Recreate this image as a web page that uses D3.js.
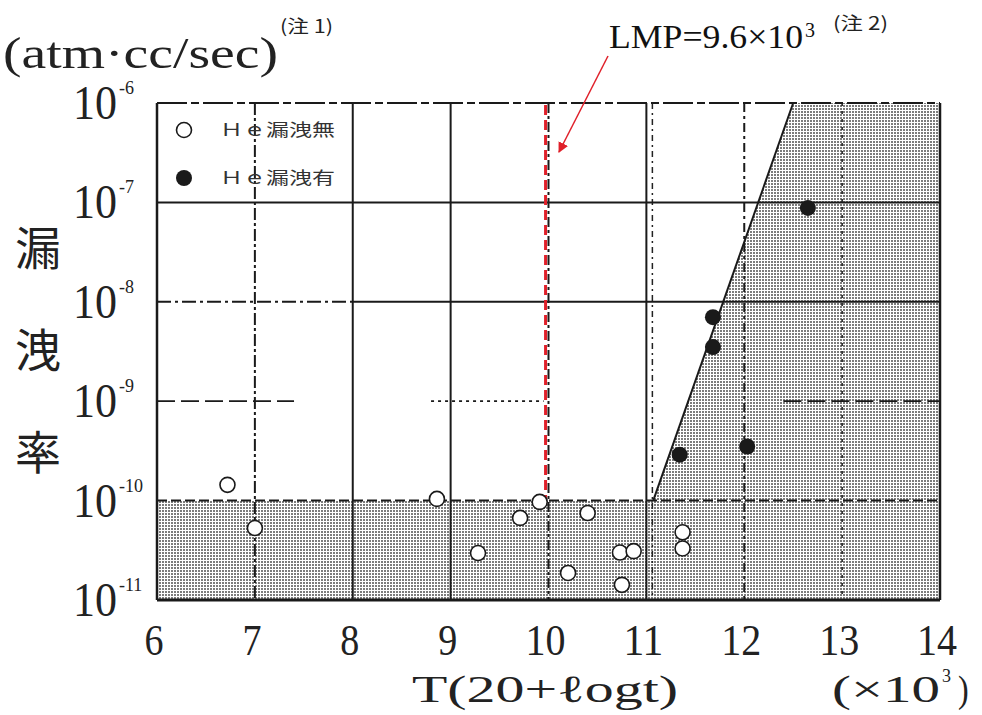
<!DOCTYPE html>
<html>
<head>
<meta charset="utf-8">
<script src="https://cdn.jsdelivr.net/npm/d3@7"></script>
<style>
  html, body { margin: 0; padding: 0; background: #fff; }
  svg { display: block; }
</style>
</head>
<body>
<svg id="chart" width="982" height="715"></svg>
<script>
// ---------------- data ----------------
const xTickValues = [6, 7, 8, 9, 10, 11, 12, 13, 14];
const yTickExponents = [-6, -7, -8, -9, -10, -11];
// He leak: none (open circles)
const noLeakT = [6.72, 7.0, 8.86, 9.28, 9.71, 9.91, 10.40, 10.73, 10.87, 10.20, 10.75, 11.37, 11.37];
const noLeakRate = [1.44e-10, 5.3e-11, 1.04e-10, 2.97e-11, 6.7e-11, 9.7e-11, 7.5e-11, 3.0e-11, 3.1e-11, 1.87e-11, 1.42e-11, 4.8e-11, 3.3e-11];
// He leak: present (filled circles)
const leakT = [12.65, 11.68, 11.68, 11.34, 12.03];
const leakRate = [8.8e-8, 7.0e-9, 3.5e-9, 2.9e-10, 3.5e-10];
// boundary line of the leak region
const boundaryT = [11.07, 12.5];
const boundaryRate = [1e-10, 1e-6];
// lower detection band
const bandRate = [1e-11, 1e-10];
const lmpLineT = 9.97;
const legendLabels = ["Ｈｅ漏洩無", "Ｈｅ漏洩有"];

// ---------------- setup ----------------
const svg = d3.select("#chart");
const x = d3.scaleLinear().domain([6, 14]).range([157, 940]);
const y = d3.scaleLog().domain([1e-11, 1e-6]).range([600, 103]);
const serif = "'Liberation Serif', 'DejaVu Serif', serif";
const cjk = "'Noto Sans CJK JP', sans-serif";
const ink = "#1a1a1a";

// stipple pattern
const defs = svg.append("defs");
const pat = defs.append("pattern").attr("id", "stip").attr("patternUnits", "userSpaceOnUse")
  .attr("width", 3).attr("height", 3);
pat.append("rect").attr("width", 3).attr("height", 3).attr("fill", "#fff");
pat.append("rect").attr("width", 2).attr("height", 2).attr("fill", "#7c7c7c");

defs.append("marker").attr("id", "arrow").attr("viewBox", "0 0 10 10")
  .attr("refX", 9).attr("refY", 5).attr("markerWidth", 7).attr("markerHeight", 7)
  .attr("orient", "auto-start-reverse")
  .append("path").attr("d", "M0,0 L10,5 L0,10 z").attr("fill", "#e0202a");

// shaded band (bottom)
svg.append("rect")
  .attr("x", x(6)).attr("y", y(bandRate[1]))
  .attr("width", x(14) - x(6)).attr("height", y(bandRate[0]) - y(bandRate[1]))
  .attr("fill", "url(#stip)");

// shaded leak region
const regionPts = [
  [x(boundaryT[0]), y(boundaryRate[0])],
  [x(boundaryT[1]), y(boundaryRate[1])],
  [x(14), y(boundaryRate[1])],
  [x(14), y(boundaryRate[0])]
];
svg.append("polygon").attr("points", regionPts.map(p => p.join(",")).join(" "))
  .attr("fill", "url(#stip)");

// vertical grid lines
const vStyles = {7: "12,3,3,3", 8: null, 9: null, 10: "10,3,3,3", 11: null, 12: "9,4,3,4", 13: "3,5"};
[7, 8, 9, 10, 11, 12, 13].forEach(v => {
  svg.append("line").attr("x1", x(v)).attr("x2", x(v))
    .attr("y1", y(1e-6)).attr("y2", y(1e-11))
    .attr("stroke", ink).attr("stroke-width", v === 13 ? 1.5 : 2)
    .attr("stroke-dasharray", vStyles[v]);
});
svg.append("line").attr("x1", x(11) + 6).attr("x2", x(11) + 6)
  .attr("y1", y(1e-6)).attr("y2", y(1e-11))
  .attr("stroke", "#222").attr("stroke-width", 1.5).attr("stroke-dasharray", "6,4,2,4");

// horizontal grid lines
svg.append("line").attr("x1", x(6)).attr("x2", x(14))
  .attr("y1", y(1e-7)).attr("y2", y(1e-7)).attr("stroke", ink).attr("stroke-width", 2);
svg.append("line").attr("x1", x(6)).attr("x2", x(8))
  .attr("y1", y(1e-8)).attr("y2", y(1e-8)).attr("stroke", ink).attr("stroke-width", 2)
  .attr("stroke-dasharray", "14,4,3,4");
svg.append("line").attr("x1", x(8)).attr("x2", x(14))
  .attr("y1", y(1e-8)).attr("y2", y(1e-8)).attr("stroke", ink).attr("stroke-width", 2);
[[6, 7.4, "18,6"], [8.8, 9.95, "3,4"], [12.4, 14, "18,6"]].forEach(s => {
  svg.append("line").attr("x1", x(s[0])).attr("x2", x(s[1]))
    .attr("y1", y(1e-9)).attr("y2", y(1e-9)).attr("stroke", ink).attr("stroke-width", 1.8)
    .attr("stroke-dasharray", s[2]);
});
svg.append("line").attr("x1", x(6)).attr("x2", x(14))
  .attr("y1", y(1e-10)).attr("y2", y(1e-10)).attr("stroke", ink).attr("stroke-width", 2)
  .attr("stroke-dasharray", "10,4");

// boundary line
svg.append("line")
  .attr("x1", x(boundaryT[0])).attr("y1", y(boundaryRate[0]))
  .attr("x2", x(boundaryT[1])).attr("y2", y(boundaryRate[1]))
  .attr("stroke", ink).attr("stroke-width", 2);

// frame
svg.append("line").attr("x1", x(6)).attr("x2", x(14)).attr("y1", y(1e-6)).attr("y2", y(1e-6))
  .attr("stroke", ink).attr("stroke-width", 2).attr("stroke-dasharray", "30,4,8,4");
svg.append("line").attr("x1", x(6)).attr("x2", x(14)).attr("y1", y(1e-11)).attr("y2", y(1e-11))
  .attr("stroke", ink).attr("stroke-width", 3);
svg.append("line").attr("x1", x(6)).attr("x2", x(6)).attr("y1", y(1e-6)).attr("y2", y(1e-11))
  .attr("stroke", ink).attr("stroke-width", 2.5);
svg.append("line").attr("x1", x(14)).attr("x2", x(14)).attr("y1", y(1e-6)).attr("y2", y(1e-11))
  .attr("stroke", ink).attr("stroke-width", 2.5);

// red LMP line
svg.append("line").attr("x1", x(lmpLineT)).attr("x2", x(lmpLineT))
  .attr("y1", y(1e-6) + 2).attr("y2", y(1e-10) + 8)
  .attr("stroke", "#e0202a").attr("stroke-width", 3).attr("stroke-dasharray", "10,5");

// points
svg.append("g").selectAll("circle").data(noLeakT.map((t, i) => [t, noLeakRate[i]]))
  .join("circle").attr("cx", d => x(d[0])).attr("cy", d => y(d[1])).attr("r", 7.5)
  .attr("fill", "#fff").attr("stroke", ink).attr("stroke-width", 1.6);
svg.append("g").selectAll("circle").data(leakT.map((t, i) => [t, leakRate[i]]))
  .join("circle").attr("cx", d => x(d[0])).attr("cy", d => y(d[1])).attr("r", 8)
  .attr("fill", ink);

// legend
svg.append("circle").attr("cx", 184).attr("cy", 130).attr("r", 7.5)
  .attr("fill", "#fff").attr("stroke", ink).attr("stroke-width", 1.6);
svg.append("circle").attr("cx", 184).attr("cy", 178).attr("r", 8).attr("fill", ink);
legendLabels.forEach((lab, i) => {
  svg.append("text").attr("x", 220).attr("y", 136 + i * 48)
    .attr("font-family", cjk).attr("font-size", 17).attr("fill", "#333")
    .attr("textLength", 115).attr("lengthAdjust", "spacingAndGlyphs")
    .text(lab);
});

// y tick labels
yTickExponents.forEach(e => {
  const yy = y(Math.pow(10, e));
  svg.append("text").attr("transform", `translate(117,${yy + 16}) scale(1,1.3)`)
    .attr("text-anchor", "end").attr("font-family", serif).attr("font-size", 38)
    .attr("fill", "#222").attr("textLength", 44).attr("lengthAdjust", "spacingAndGlyphs")
    .text("10");
  svg.append("text").attr("x", 119).attr("y", yy - 9)
    .attr("font-family", serif).attr("font-size", 18).attr("fill", "#222")
    .text("-" + (-e));
});

// x tick labels
xTickValues.forEach(v => {
  const s = String(v);
  svg.append("text").attr("transform", `translate(${x(v) - 3},${655}) scale(1,1.3)`)
    .attr("text-anchor", "middle").attr("font-family", serif).attr("font-size", 34)
    .attr("fill", "#222").attr("textLength", s.length === 1 ? 19 : 40)
    .attr("lengthAdjust", "spacingAndGlyphs").text(s);
});

// axis titles
svg.append("text").attr("transform", "translate(412,702) scale(1,1.2)")
  .attr("font-family", serif).attr("font-size", 32).attr("fill", "#222")
  .attr("textLength", 266).attr("lengthAdjust", "spacingAndGlyphs")
  .text("T(20+ℓogt)");
const unitG = svg.append("g").attr("transform", "translate(0,702)")
  .attr("font-family", serif).attr("fill", "#222");
unitG.append("text").attr("transform", "translate(832,0) scale(1,1.2)").attr("font-size", 32)
  .attr("textLength", 108).attr("lengthAdjust", "spacingAndGlyphs").text("(×10");
unitG.append("text").attr("x", 942).attr("y", -20).attr("font-size", 18).text("3");
unitG.append("text").attr("transform", "translate(958,0) scale(1,1.2)").attr("font-size", 32)
  .text(")");

svg.append("text").attr("transform", "translate(3,68) scale(1,1.25)")
  .attr("font-family", serif).attr("font-size", 36).attr("fill", "#222")
  .attr("textLength", 275).attr("lengthAdjust", "spacingAndGlyphs")
  .text("(atm·cc/sec)");
svg.append("text").attr("x", 280).attr("y", 33)
  .attr("font-family", cjk).attr("font-size", 18).attr("fill", "#222")
  .attr("textLength", 53).attr("lengthAdjust", "spacingAndGlyphs").text("(注 1)");

["漏", "洩", "率"].forEach((ch, i) => {
  svg.append("text").attr("x", 38).attr("y", 265 + i * 102)
    .attr("text-anchor", "middle").attr("font-family", cjk).attr("font-size", 46)
    .attr("font-weight", 400).attr("fill", "#222").text(ch);
});

// LMP annotation
svg.append("text").attr("x", 609).attr("y", 48)
  .attr("font-family", serif).attr("font-size", 34).attr("fill", "#111")
  .attr("textLength", 194).attr("lengthAdjust", "spacingAndGlyphs").text("LMP=9.6×10");
svg.append("text").attr("x", 805).attr("y", 37)
  .attr("font-family", serif).attr("font-size", 20).attr("fill", "#111").text("3");
svg.append("text").attr("x", 833).attr("y", 30)
  .attr("font-family", cjk).attr("font-size", 18).attr("fill", "#222")
  .attr("textLength", 55).attr("lengthAdjust", "spacingAndGlyphs").text("(注 2)");
svg.append("line").attr("x1", 608).attr("y1", 56).attr("x2", 559).attr("y2", 152)
  .attr("stroke", "#e0202a").attr("stroke-width", 1.5).attr("marker-end", "url(#arrow)");
</script>
</body>
</html>
